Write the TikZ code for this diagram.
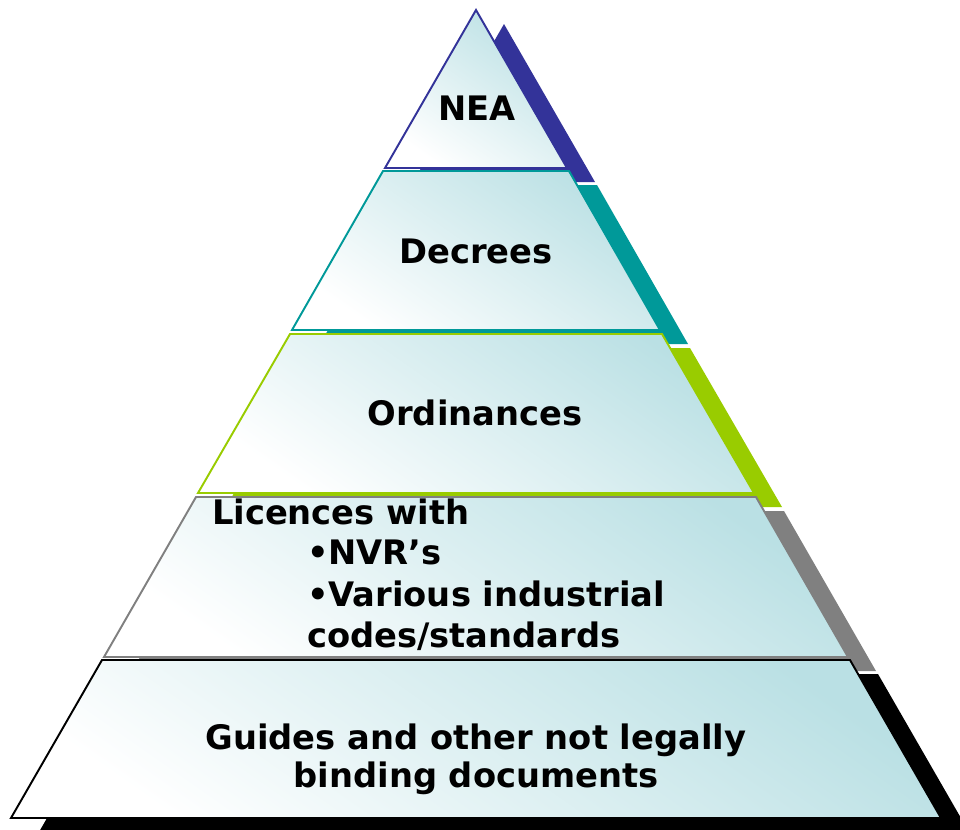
\documentclass[tikz,border=0pt]{standalone}
\usepackage{fontspec}
\setmainfont{DejaVu Sans}
\definecolor{neablue}{RGB}{51,51,153}
\definecolor{decteal}{RGB}{0,153,153}
\definecolor{ordgreen}{RGB}{153,204,0}
\definecolor{licgray}{RGB}{128,128,128}
\definecolor{pyrcyan}{RGB}{186,224,228}

\begin{document}
\begin{tikzpicture}[x=0.02cm, y=-0.02cm]
\tikzset{ layer/.style={line width=1.1pt, top color=pyrcyan, bottom color=white, shading angle=-35},
          lbl/.style={font=\bfseries\fontsize{19.2}{21.8}\selectfont, inner sep=0pt, outer sep=0pt} }

\useasboundingbox (0,0) rectangle (960,829);

% shadows
\fill [neablue,  shift={(28,14)}] (476,10)  -- (567,168) -- (385,168) -- cycle;
\fill [decteal,  shift={(28,14)}] (383,171) -- (569,171) -- (660,330) -- (292,330) -- cycle;
\fill [ordgreen, shift={(28,14)}] (290,334) -- (662,334) -- (754,493) -- (198,493) -- cycle;
\fill [licgray,  shift={(28,14)}] (196,497) -- (756,497) -- (848,657) -- (104,657) -- cycle;
\fill [black,    shift={(28,14)}] (102,660) -- (850,660) -- (941,818) -- (11,818)  -- cycle;

% layers
\shade [layer, draw=neablue]  (476,10)  -- (567,168) -- (385,168) -- cycle;
\shade [layer, draw=decteal]  (383,171) -- (569,171) -- (660,330) -- (292,330) -- cycle;
\shade [layer, draw=ordgreen] (290,334) -- (662,334) -- (754,493) -- (198,493) -- cycle;
\shade [layer, draw=licgray]  (196,497) -- (756,497) -- (848,657) -- (104,657) -- cycle;
\shade [layer, draw=black]    (102,660) -- (850,660) -- (941,818) -- (11,818)  -- cycle;

\node [lbl] (nea) at (477,108) {NEA};
\node [lbl] (dec) at (476,251) {Decrees};
\node [lbl] (ord) at (475,413) {Ordinances};

\node [lbl, anchor=base west] (lic) at (212,524) {Licences with};
\node [lbl, anchor=base west] (nvr) at (307,564) {•NVR’s};
\node [lbl, anchor=base west] (var) at (307,606) {•Various industrial};
\node [lbl, anchor=base west] (cod) at (307,647) {codes/standards};

\node [lbl, align=center] (gui) at (476,759)
      {Guides and other not legally\\binding documents};

\end{tikzpicture}
\end{document}
